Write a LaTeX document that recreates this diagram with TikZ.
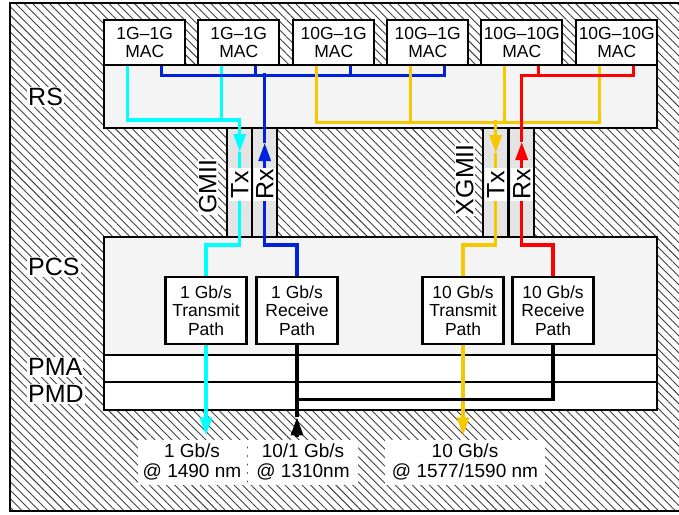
\documentclass[tikz,border=0pt]{standalone}
\usepackage{fontspec}
\setmainfont{Liberation Sans}
\usetikzlibrary{arrows.meta, patterns.meta, positioning}

\definecolor{wcyan}{HTML}{00FFFF}
\definecolor{wblue}{HTML}{0022DD}
\definecolor{wgold}{HTML}{F5C800}
\definecolor{wred}{HTML}{FF0000}
\definecolor{lightfill}{HTML}{F4F4F4}
\definecolor{stripfill}{HTML}{E4E4E4}

\begin{document}
\begin{tikzpicture}[x=1pt, y=-1pt,
    layerbox/.style={draw, line width=2.4pt, fill=lightfill, anchor=north west, inner sep=0pt, minimum width=553pt},
    macbox/.style={draw, line width=2.4pt, fill=white, minimum width=81pt, minimum height=45pt, anchor=north west, align=center, inner sep=0pt, font=\fontsize{17.5}{18.5}\selectfont},
    pathbox/.style={macbox, minimum height=67pt, anchor=north},
    strip/.style={draw, line width=2.4pt, fill=stripfill, minimum width=25pt, minimum height=109pt, anchor=north west, inner sep=0pt},
    bigtext/.style={font=\fontsize{25}{26}\selectfont, inner sep=1pt},
    layerlabel/.style={bigtext, fill=white, anchor=west},
    txrx/.style={bigtext, fill=white, rotate=90, minimum width=33pt, minimum height=22pt, inner sep=0pt},
    rate/.style={fill=white, align=center, font=\fontsize{19}{20}\selectfont, minimum height=45pt, inner sep=0pt},
    wire/.style={line width=3.2pt},
    tip/.style={-{Triangle[length=18pt, width=12pt]}}
]
    \useasboundingbox (0,0) rectangle (679,514);
    \clip (0,0) rectangle (679,514);

    % hatched frame
    \draw[line width=2.4pt, pattern={Lines[angle=-45, distance=6pt, line width=0.9pt]}, pattern color=black!75] (10,3) rectangle (700,511);

    % media independent interfaces
    \node[strip] (gtx) at (226,127) {};
    \node[strip] (grx) at (251,127) {};
    \node[strip] (xtx) at (482,127) {};
    \node[strip] (xrx) at (508,127) {};

    % reconciliation sublayer and MACs
    \node[layerbox, minimum height=63pt] (rs) at (103,64) {};
    \node[macbox] (mac1) at (103,19) {1G–1G\\MAC};
    \node[macbox] (mac2) at (197,19) {1G–1G\\MAC};
    \node[macbox] (mac3) at (292,19) {10G–1G\\MAC};
    \node[macbox] (mac4) at (386,19) {10G–1G\\MAC};
    \node[macbox] (mac5) at (480,19) {10G–10G\\MAC};
    \node[macbox] (mac6) at (575,19) {10G–10G\\MAC};

    % PCS, PMA, PMD
    \node[layerbox, minimum height=118pt] (pcs) at (103,236) {};
    \node[layerbox, fill=white, minimum height=27pt] (pma) at (103,354) {};
    \node[layerbox, fill=white, minimum height=28pt] (pmd) at (103,381) {};

    \node[pathbox] (tx1) at (206,276) {1 Gb/s\\Transmit\\Path};
    \node[pathbox] (rx1) at (297,276) {1 Gb/s\\Receive\\Path};
    \node[pathbox] (tx10) at (463,276) {10 Gb/s\\Transmit\\Path};
    \node[pathbox] (rx10) at (553,276) {10 Gb/s\\Receive\\Path};

    % arrow points
    \coordinate (gtxarr) at ([yshift=-25pt]gtx.north);
    \coordinate (grxarr) at ([yshift=-16pt]grx.north);
    \coordinate (xtxarr) at ([yshift=-26pt]xtx.north);
    \coordinate (xrxarr) at ([yshift=-15pt]xrx.north);
    \coordinate (grxbus) at ([yshift=54pt]grx.north);
    \coordinate (tx1out) at ([yshift=-90pt]tx1.south);
    \coordinate (tx10out) at ([yshift=-90pt]tx10.south);
    \coordinate (rx1in) at ([yshift=-92pt]rx1.south);
    \coordinate (rx1arr) at ([yshift=-72pt]rx1.south);
    \coordinate (rxjoin) at ([yshift=-54pt]rx1.south);

    % 1G transmit
    \draw[wire, wcyan] ([xshift=-17pt]mac2.south) -- ++(0,56);
    \draw[wire, wcyan, tip] ([xshift=-17pt]mac1.south) |- ([yshift=7pt]gtx.north) -- (gtxarr);
    \draw[wire, wcyan] (gtxarr) |- ([yshift=31pt]tx1.north) -- (tx1.north);
    \draw[wire, wcyan, tip] (tx1.south) -- (tx1out);

    % 1G receive
    \draw[wire, wblue] ([xshift=17pt]mac1.south) -- ++(0,9) -| ([xshift=17pt]mac4.south);
    \draw[wire, wblue] ([xshift=17pt]mac2.south) -- ++(0,9);
    \draw[wire, wblue] ([xshift=17pt]mac3.south) -- ++(0,9);
    \draw[wire, wblue, tip] (rx1.north) -- ++(0,-31) -| (grxarr);
    \draw[wire, wblue] (grxarr) -- (grxbus);

    % 10G transmit
    \draw[wire, wgold] ([xshift=-17pt]mac3.south) -- ++(0,56) -| ([xshift=-17pt]mac6.south);
    \draw[wire, wgold] ([xshift=-17pt]mac4.south) -- ++(0,56);
    \draw[wire, wgold] ([xshift=-17pt]mac5.south) -- ++(0,56);
    \draw[wire, wgold, tip] ([yshift=7pt]xtx.north) -- (xtxarr);
    \draw[wire, wgold] (xtxarr) |- ([yshift=31pt]tx10.north) -- (tx10.north);
    \draw[wire, wgold, tip] (tx10.south) -- (tx10out);

    % 10G receive
    \draw[wire, wred] ([xshift=17pt]mac5.south) -- ++(0,9);
    \draw[wire, wred] ([xshift=17pt]mac6.south) -- ++(0,9) -| (xrxarr);
    \draw[wire, wred, tip] (rx10.north) -- ++(0,-31) -| (xrxarr);

    % shared receive fibre
    \draw[wire, tip] (rx1in) -- (rx1arr);
    \draw[wire] (rx1arr) -- (rx1.south);
    \draw[wire] (rx10.south) |- (rxjoin);

    % labels
    \node[txrx] (gtxlbl) at ([yshift=-2pt]gtx.center) {Tx};
    \node[txrx] (grxlbl) at ([yshift=-2pt]grx.center) {Rx};
    \node[txrx] (xtxlbl) at ([yshift=-2pt]xtx.center) {Tx};
    \node[txrx] (xrxlbl) at ([yshift=-2pt]xrx.center) {Rx};
    \node[bigtext, fill=white, rotate=90] (gmii) at ([xshift=-32pt, yshift=-4pt]gtx.center) {GMII};
    \node[bigtext, fill=white, rotate=90] (xgmii) at ([xshift=-31pt, yshift=3pt]xtx.center) {XGMII};

    \node[layerlabel] (rslbl) at (27,97) {RS};
    \node[layerlabel] (pcslbl) at (27,267) {PCS};
    \node[layerlabel] (pmalbl) at (27,367) {PMA};
    \node[layerlabel] (pmdlbl) at (27,394) {PMD};

    \node[rate, minimum width=109pt] (out1) at (192,462) {1 Gb/s\\@ 1490 nm};
    \node[rate, minimum width=110pt] (out2) at (303,462) {10/1 Gb/s\\@ 1310nm};
    \node[rate, minimum width=160pt] (out3) at (465,462) {10 Gb/s\\@ 1577/1590 nm};
\end{tikzpicture}
\end{document}
